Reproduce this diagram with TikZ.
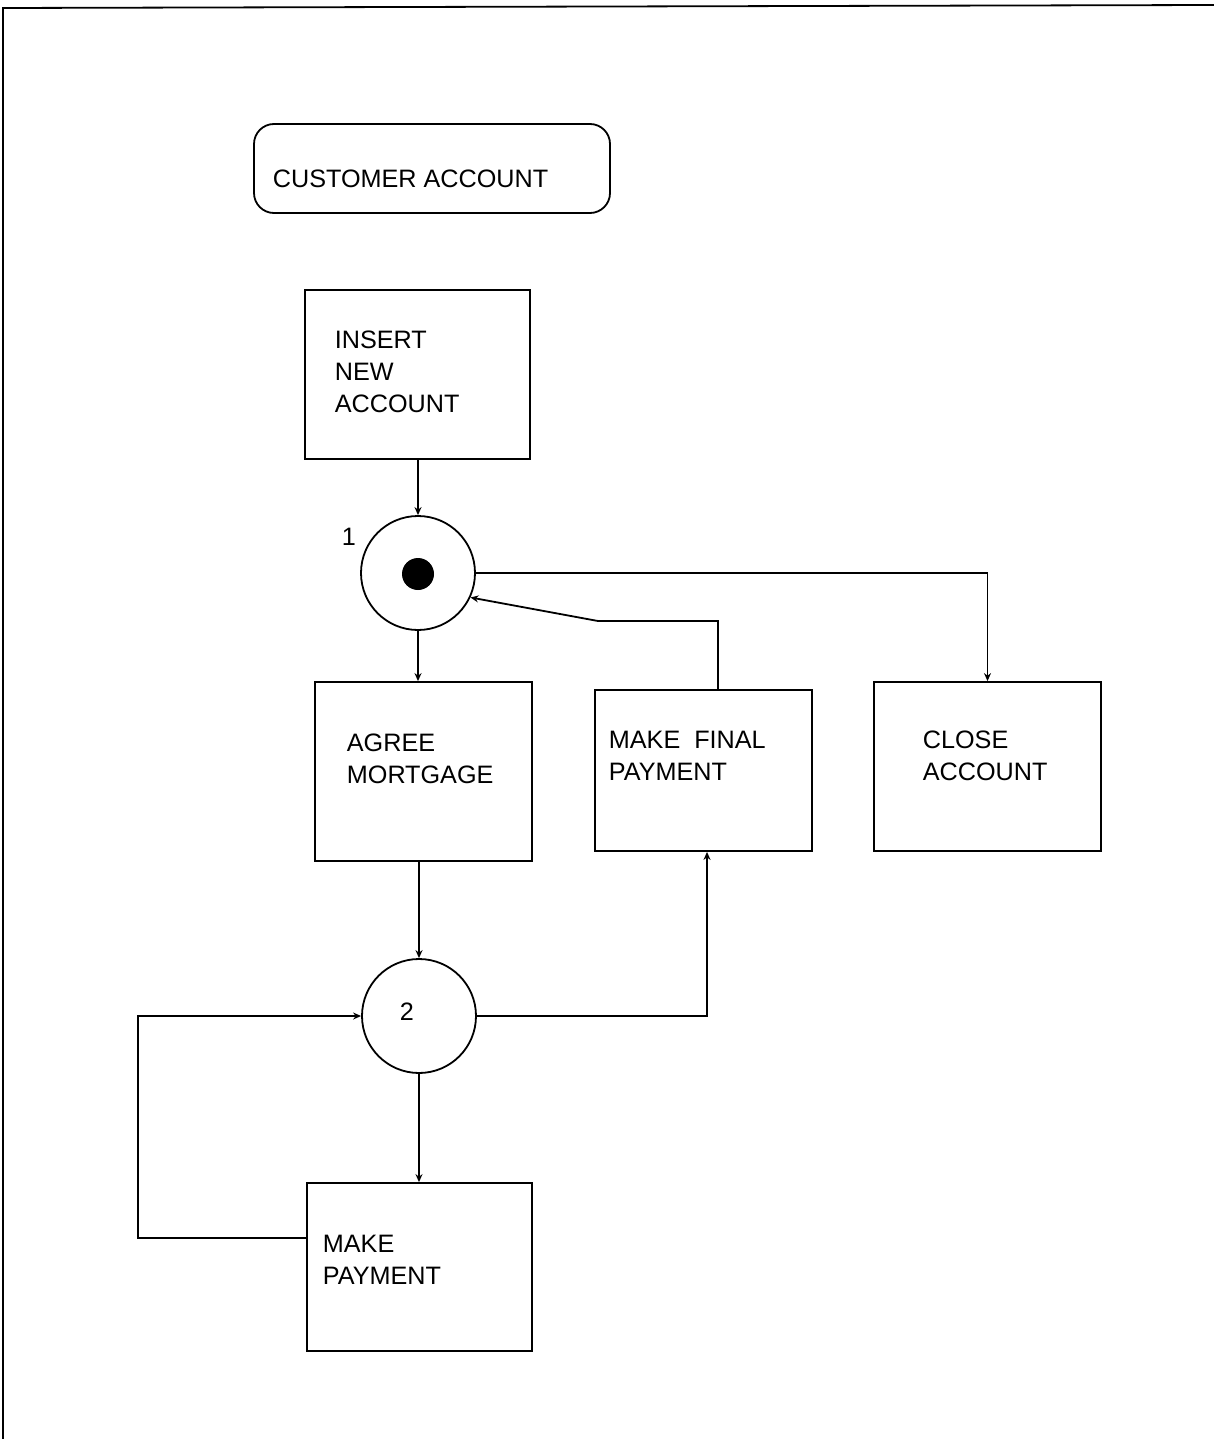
\documentclass[tikz,border=0pt]{standalone}
\usepackage{fontspec}
\setmainfont{Liberation Sans}
\usetikzlibrary{arrows.meta,calc}
\begin{document}
\begin{tikzpicture}[x=0.5pt,y=-0.5pt,
  line width=0.9pt,
  box/.style={draw,rectangle,inner sep=0pt},
  place/.style={draw,circle,inner sep=0pt,minimum size=57pt},
  lbl/.style={inner sep=0pt,anchor=west,align=left,font=\fontsize{12.6pt}{16pt}\selectfont},
  arr/.style={-{Stealth[length=4pt,width=3.5pt]}}]
\useasboundingbox (0,0) rectangle (1214,1439);
% page frame
\coordinate (ftl) at (3,8);
\coordinate (ftr) at (1214,5);
\coordinate (fbl) at (3,1439);
\draw (fbl) -- (ftl) -- (ftr);

% title
\node[box,rounded corners=10pt,minimum width=178pt,minimum height=44.5pt] (title) at (432,168.5) {};
\node[lbl] (titletxt) at (272,179) {CUSTOMER ACCOUNT};

% boxes
\node[box,minimum width=112.5pt,minimum height=84.5pt] (insert) at (417.5,374.5) {};
\node[lbl] (inserttxt) at (334,372) {INSERT\\NEW\\ACCOUNT};

\node[box,minimum width=108.5pt,minimum height=89.5pt] (agree) at (423.5,771.5) {};
\node[lbl] (agreetxt) at (346,759) {AGREE\\MORTGAGE};

\node[box,minimum width=108.5pt,minimum height=80.5pt] (final) at (703.5,770.5) {};
\node[lbl] (finaltxt) at (608,756) {MAKE\ \ FINAL\\PAYMENT};

\node[box,minimum width=113.5pt,minimum height=84.5pt] (close) at (987.5,766.5) {};
\node[lbl] (closetxt) at (922,756) {CLOSE\\ACCOUNT};

\node[box,minimum width=112.5pt,minimum height=84pt] (pay) at (419.5,1267) {};
\node[lbl] (paytxt) at (322,1260) {MAKE\\PAYMENT};

% places
\node[place] (p1) at (418,573) {};
\fill (418,574) circle (8pt);
\node[inner sep=0pt,font=\fontsize{12.6pt}{16pt}\selectfont] (p1lbl) at (349,537) {1};

\node[place] (p2) at (419,1016) {};
\node[inner sep=0pt,font=\fontsize{12.6pt}{16pt}\selectfont] (p2lbl) at (407,1012) {2};

% arcs
\draw[arr] (insert.south -| p1.north) -- (p1.north);
\draw[arr] (p1.south) -- (p1.south |- agree.north);
\draw[arr] (p1.east) -| (close.north);
\coordinate (fk) at (598,621);
\draw[arr] ($(final.north)+(14.5,0)$) |- (fk) -- (p1.-25);
\draw[arr] (agree.south -| p2.north) -- (p2.north);
\draw[arr] (p2.east) -| ($(final.south)+(3.5,0)$);
\draw[arr] (p2.south) -- (p2.south |- pay.north);
\coordinate (lk) at (138,1238);
\draw[arr] ($(pay.west)+(0,-29)$) -- (lk) |- (p2.west);
\end{tikzpicture}
\end{document}
